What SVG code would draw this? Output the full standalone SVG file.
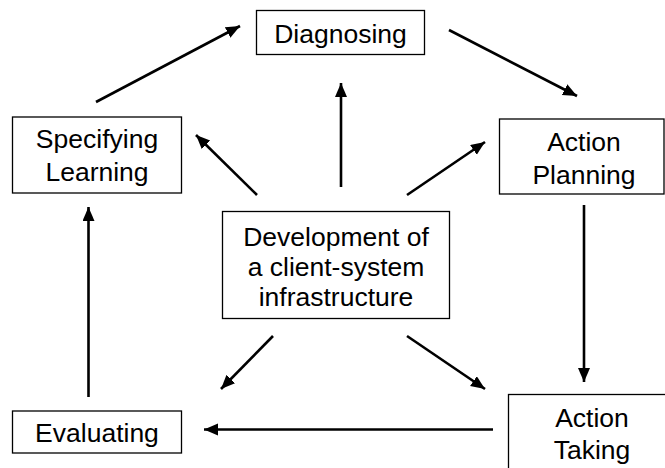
<svg xmlns="http://www.w3.org/2000/svg" width="665" height="468" viewBox="0 0 665 468">
<style>
.box{fill:#fff;stroke:#000;stroke-width:1.3}
.lbl{font-family:"Liberation Sans",Arial,sans-serif;font-size:26.5px;fill:#000;text-anchor:middle}
.arr{stroke:#000;stroke-width:2.6;fill:none;marker-end:url(#ah)}
</style>
<defs>
<marker id="ah" markerUnits="userSpaceOnUse" markerWidth="16" markerHeight="14" refX="14" refY="6" orient="auto">
<path d="M0,0 L14,6 L0,12 Z" fill="#000"/>
</marker>
</defs>
<rect width="665" height="468" fill="#fff"/>
<g id="connectors">
<line class="arr" x1="96" y1="102" x2="240" y2="26"/>
<line class="arr" x1="449" y1="30" x2="577" y2="96"/>
<line class="arr" x1="341" y1="187" x2="341" y2="83"/>
<line class="arr" x1="257" y1="195" x2="196" y2="135"/>
<line class="arr" x1="407" y1="195" x2="485" y2="142"/>
<line class="arr" x1="584" y1="205" x2="584" y2="382"/>
<line class="arr" x1="273" y1="336" x2="221" y2="389"/>
<line class="arr" x1="407" y1="336" x2="485" y2="389"/>
<line class="arr" x1="493" y1="429.5" x2="204" y2="429.5"/>
<line class="arr" x1="88.5" y1="397" x2="88.5" y2="207"/>
</g>
<g id="diagnosing">
<rect class="box" x="256.5" y="10.5" width="168" height="44"/>
<text class="lbl" x="340.5" y="43">Diagnosing</text>
</g>
<g id="specifying-learning">
<rect class="box" x="12.5" y="117" width="169" height="76"/>
<text class="lbl" x="97" y="148">Specifying</text>
<text class="lbl" x="97" y="181">Learning</text>
</g>
<g id="action-planning">
<rect class="box" x="499.5" y="119" width="164.5" height="75"/>
<text class="lbl" x="584" y="151">Action</text>
<text class="lbl" x="584" y="184">Planning</text>
</g>
<g id="development">
<rect class="box" x="222.5" y="211.5" width="227" height="107"/>
<text class="lbl" x="336" y="246">Development of</text>
<text class="lbl" x="336" y="276">a client-system</text>
<text class="lbl" x="336" y="306">infrastructure</text>
</g>
<g id="evaluating">
<rect class="box" x="12.5" y="411" width="169" height="42"/>
<text class="lbl" x="97" y="442">Evaluating</text>
</g>
<g id="action-taking">
<rect class="box" x="508.5" y="394.5" width="170" height="90"/>
<text class="lbl" x="592" y="427">Action</text>
<text class="lbl" x="592" y="459">Taking</text>
</g>
</svg>
